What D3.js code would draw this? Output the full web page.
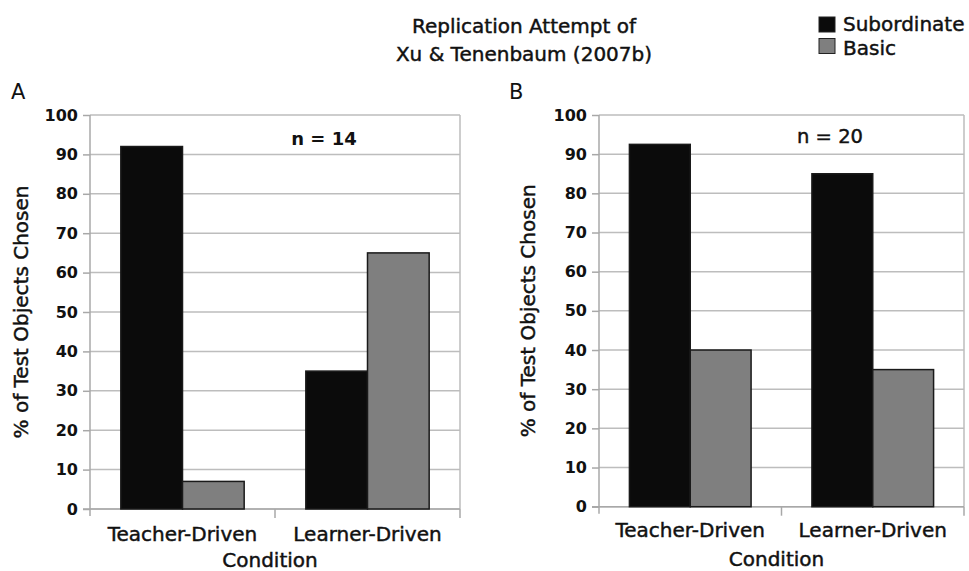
<!DOCTYPE html>
<html>
<head>
<meta charset="utf-8">
<script src="https://cdn.jsdelivr.net/npm/d3@7"></script>
<style>
  html, body { margin: 0; padding: 0; background: #fff; }
  svg text { font-family: "DejaVu Sans", sans-serif; fill: #111; }
  svg text.med { stroke: #111; stroke-width: 0.45px; }
</style>
</head>
<body>
<svg id="chart" width="969" height="571"></svg>
<script>
// data
var categories = ["Teacher-Driven", "Learner-Driven"];
var series = ["Subordinate", "Basic"];
var subordinateA = [92, 35];
var basicA = [7, 65];
var subordinateB = [92.5, 85];
var basicB = [40, 35];
var yTicks = [0, 10, 20, 30, 40, 50, 60, 70, 80, 90, 100];
var panelLetters = ["A", "B"];
var sampleSizes = ["n = 14", "n = 20"];

var colors = { Subordinate: "#0b0b0b", Basic: "#7f7f7f" };
var gridColor = "#bdbdbd";
var axisColor = "#a8a8a8";

var svg = d3.select("#chart");

// title
svg.append("text").attr("class", "med").attr("x", 524).attr("y", 33).attr("text-anchor", "middle")
  .style("font-size", "20px").text("Replication Attempt of");
svg.append("text").attr("class", "med").attr("x", 524).attr("y", 61).attr("text-anchor", "middle")
  .style("font-size", "20px").text("Xu & Tenenbaum (2007b)");

// legend
var legend = svg.append("g");
series.forEach(function (s, i) {
  legend.append("rect")
    .attr("x", 819).attr("y", 17 + i * 21.5)
    .attr("width", 16).attr("height", 15)
    .attr("fill", colors[s]).attr("stroke", "#222").attr("stroke-width", 1);
  legend.append("text").attr("class", "med")
    .attr("x", 843).attr("y", 31 + i * 24)
    .style("font-size", "20px").text(s);
});

function drawPanel(opt) {
  var g = svg.append("g");
  var x = d3.scaleBand().domain(categories).range([opt.left, opt.right]).padding(0);
  var xs = d3.scaleBand().domain(series).range([0, x.bandwidth()])
    .paddingInner(0).paddingOuter(0.5);
  var y = d3.scaleLinear().domain([0, 100]).range([opt.bottom, opt.top]);

  // gridlines
  g.selectAll(".grid").data(yTicks).enter().append("line")
    .attr("x1", opt.left).attr("x2", opt.right)
    .attr("y1", function (d) { return y(d); })
    .attr("y2", function (d) { return y(d); })
    .attr("stroke", gridColor).attr("stroke-width", 1.5);

  // right border
  g.append("line").attr("x1", opt.right).attr("x2", opt.right)
    .attr("y1", opt.top).attr("y2", opt.bottom)
    .attr("stroke", gridColor).attr("stroke-width", 1.5);

  // y axis
  var yAxis = d3.axisLeft(y).tickValues(yTicks).tickSize(7).tickPadding(5);
  var ya = g.append("g").attr("transform", "translate(" + opt.left + ",0)").call(yAxis);
  ya.select(".domain").remove();
  ya.selectAll(".tick line").attr("stroke", axisColor).attr("stroke-width", 1.5);
  ya.selectAll(".tick text")
    .style("font-family", "'DejaVu Sans', sans-serif")
    .style("font-size", "16px").style("font-weight", "bold").attr("fill", "#111");
  g.append("line").attr("x1", opt.left).attr("x2", opt.left)
    .attr("y1", opt.top).attr("y2", opt.bottom + 7)
    .attr("stroke", axisColor).attr("stroke-width", 1.5);

  // x axis
  g.append("line").attr("x1", opt.left - 7).attr("x2", opt.right)
    .attr("y1", opt.bottom).attr("y2", opt.bottom)
    .attr("stroke", axisColor).attr("stroke-width", 1.5);
  var bounds = categories.map(function (c) { return x(c); }).concat([opt.right]);
  g.selectAll(".xtick").data(bounds.slice(1)).enter().append("line")
    .attr("x1", function (d) { return d; }).attr("x2", function (d) { return d; })
    .attr("y1", opt.bottom).attr("y2", opt.bottom + 9)
    .attr("stroke", axisColor).attr("stroke-width", 1.5);
  g.selectAll(".xlab").data(categories).enter().append("text").attr("class", "med")
    .attr("x", function (c) { return x(c) + x.bandwidth() / 2; })
    .attr("y", opt.catY).attr("text-anchor", "middle")
    .style("font-size", "20px").text(function (c) { return c; });

  // bars
  var rows = [];
  categories.forEach(function (c, i) {
    rows.push({ cat: c, s: "Subordinate", v: opt.sub[i] });
    rows.push({ cat: c, s: "Basic", v: opt.basic[i] });
  });
  g.selectAll(".bar").data(rows).enter().append("rect")
    .attr("x", function (d) { return x(d.cat) + xs(d.s); })
    .attr("y", function (d) { return y(d.v); })
    .attr("width", xs.bandwidth())
    .attr("height", function (d) { return y(0) - y(d.v); })
    .attr("fill", function (d) { return colors[d.s]; })
    .attr("stroke", "#1a1a1a").attr("stroke-width", 1.5);

  // labels
  g.append("text").attr("class", "med")
    .attr("transform", "translate(" + opt.ylabX + "," + ((opt.top + opt.bottom) / 2) + ") rotate(-90)")
    .attr("text-anchor", "middle").style("font-size", "20px")
    .text("% of Test Objects Chosen");
  g.append("text").attr("class", "med").attr("x", (opt.left + opt.right) / 2 - 5).attr("y", opt.condY)
    .attr("text-anchor", "middle").style("font-size", "20px").text("Condition");
  g.append("text").attr("x", opt.letterX).attr("y", 99)
    .style("font-size", "21px").text(opt.letter);
  g.append("text").attr("class", opt.nBold ? "" : "med").attr("x", opt.nX).attr("y", opt.nY)
    .attr("text-anchor", "middle")
    .style("font-size", opt.nBold ? "18px" : "19.5px")
    .style("font-weight", opt.nBold ? "bold" : "normal")
    .text(opt.n);
}

drawPanel({ left: 90, right: 460, top: 115, bottom: 509, sub: subordinateA, basic: basicA,
  catY: 541, condY: 567, ylabX: 28, letter: panelLetters[0], letterX: 11,
  n: sampleSizes[0], nX: 324, nY: 145, nBold: true });
drawPanel({ left: 599, right: 964, top: 115, bottom: 506.7, sub: subordinateB, basic: basicB,
  catY: 537, condY: 566, ylabX: 535, letter: panelLetters[1], letterX: 509,
  n: sampleSizes[1], nX: 830, nY: 143, nBold: false });
</script>
</body>
</html>
